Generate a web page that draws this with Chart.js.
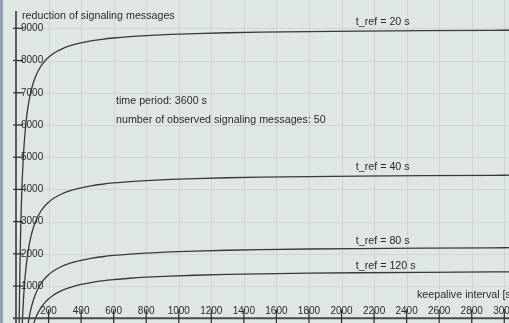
<!DOCTYPE html>
<html lang="en">
<head>
    <meta charset="UTF-8">
    <title>reduction of signaling messages</title>
    <script src="https://cdn.jsdelivr.net/npm/chart.js"></script>
    <style>
        body { margin:0; background:#dfe7e3; }
        #wrap { width:509px; height:323px; }
    </style>
</head>
<body>
    <div id="wrap">
        <canvas id="myChart" width="509" height="323"></canvas>
    </div>

    <script>
        // keepalive interval [s]
        const keepalive = [16, 18, 20, 22, 24, 27, 30, 34, 38, 42, 46, 50, 55, 60, 66, 72, 80, 88, 96, 105, 115, 125, 135, 150, 165, 180, 200, 225, 250, 280, 320, 360, 400, 460, 530, 600, 700, 800, 950, 1100, 1300, 1500, 1800, 2100, 2500, 3000, 3100];

        // reduction of signaling messages
        const tref20 = [null, -1000, 0, 818, 1500, 2333, 3000, 3706, 4263, 4714, 5087, 5400, 5727, 6000, 6273, 6500, 6750, 6955, 7125, 7286, 7435, 7560, 7667, 7800, 7909, 8000, 8100, 8200, 8280, 8357, 8437, 8500, 8550, 8609, 8660, 8700, 8743, 8775, 8811, 8836, 8862, 8880, 8900, 8914, 8928, 8940, 8942];
        const tref40 = [null, null, null, null, null, null, -1500, -794, -237, 214, 587, 900, 1227, 1500, 1773, 2000, 2250, 2455, 2625, 2786, 2935, 3060, 3167, 3300, 3409, 3500, 3600, 3700, 3780, 3857, 3937, 4000, 4050, 4109, 4160, 4200, 4243, 4275, 4311, 4336, 4362, 4380, 4400, 4414, 4428, 4440, 4442];
        const tref80 = [null, null, null, null, null, null, null, null, null, null, null, null, null, -750, -477, -250, 0, 205, 375, 536, 685, 810, 917, 1050, 1159, 1250, 1350, 1450, 1530, 1607, 1687, 1750, 1800, 1859, 1910, 1950, 1993, 2025, 2061, 2086, 2112, 2130, 2150, 2164, 2178, 2190, 2192];
        const tref120 = [null, null, null, null, null, null, null, null, null, null, null, null, null, null, null, null, null, null, -375, -214, -65, 60, 167, 300, 409, 500, 600, 700, 780, 857, 937, 1000, 1050, 1109, 1160, 1200, 1243, 1275, 1311, 1336, 1362, 1380, 1400, 1414, 1428, 1440, 1442];

        const xTicks = [200, 400, 600, 800, 1000, 1200, 1400, 1600, 1800, 2000, 2200, 2400, 2600, 2800, 3000];
        const yTicks = [1000, 2000, 3000, 4000, 5000, 6000, 7000, 8000, 9000];

        // curve labels: [text, x value, y value]
        const curveLabels = [
            ['t_ref = 20 s', 2088, 9101],
            ['t_ref = 40 s', 2088, 4588],
            ['t_ref = 80 s', 2088, 2293],
            ['t_ref = 120 s', 2088, 1517]
        ];

        const toPts = (vals) => keepalive.map((k, i) => ({x: k, y: vals[i]}));

        const mkSet = (lbl, vals) => ({
            label: lbl,
            data: toPts(vals),
            borderColor: '#383838',
            borderWidth: 1.3,
            pointRadius: 0,
            fill: false,
            cubicInterpolationMode: 'monotone'
        });

        const FONT = '"Liberation Sans", Arial, sans-serif';

        // background, grid, axes and texts
        const deco = {
            id: 'deco',
            beforeDraw(chart) {
                const c = chart.ctx, xs = chart.scales.x, ys = chart.scales.y;
                c.save();
                c.fillStyle = '#dfe7e3';
                c.fillRect(0, 0, chart.width, chart.height);
                c.fillStyle = '#8fa0bc';
                c.fillRect(0, 0, 3, chart.height);

                c.strokeStyle = '#cfd6d3';
                c.lineWidth = 1;
                xTicks.forEach(v => {
                    const px = Math.round(xs.getPixelForValue(v)) + 0.5;
                    c.beginPath(); c.moveTo(px, 0); c.lineTo(px, chart.height); c.stroke();
                });
                yTicks.forEach(v => {
                    const py = Math.round(ys.getPixelForValue(v)) + 0.5;
                    c.beginPath(); c.moveTo(16, py); c.lineTo(chart.width, py); c.stroke();
                });
                c.restore();
            },
            afterDatasetsDraw(chart) {
                const c = chart.ctx, xs = chart.scales.x, ys = chart.scales.y;
                const x0 = xs.getPixelForValue(0), y0 = ys.getPixelForValue(0);
                c.save();
                c.strokeStyle = '#2e2e2e';
                // y axis
                c.lineWidth = 1.5;
                c.beginPath(); c.moveTo(x0, 11); c.lineTo(x0, chart.height); c.stroke();
                // x axis
                c.strokeStyle = '#4a4a4a';
                c.lineWidth = 2;
                c.beginPath(); c.moveTo(x0 - 3, y0); c.lineTo(chart.width, y0); c.stroke();

                c.strokeStyle = '#2e2e2e';
                c.lineWidth = 1.2;
                c.fillStyle = '#2a2a2a';
                c.font = '10px ' + FONT;
                // y ticks
                c.textAlign = 'left';
                c.textBaseline = 'middle';
                yTicks.forEach(v => {
                    const py = ys.getPixelForValue(v);
                    c.beginPath(); c.moveTo(x0 - 3, py); c.lineTo(x0 + 7, py); c.stroke();
                    c.fillText(String(v), x0 + 5, py);
                });
                // x ticks
                c.textAlign = 'center';
                c.textBaseline = 'alphabetic';
                xTicks.forEach(v => {
                    const px = xs.getPixelForValue(v);
                    c.beginPath(); c.moveTo(px, y0 - 9); c.lineTo(px, chart.height); c.stroke();
                    c.fillText(String(v), px, y0 - 4);
                });

                // texts
                c.font = '10.7px ' + FONT;
                c.textAlign = 'left';
                c.fillText('reduction of signaling messages', 22, 19);
                c.fillText('time period: 3600 s', 116, 104);
                c.fillText('number of observed signaling messages: 50', 116, 123);
                c.fillText('keepalive interval [s]', 417, 298);
                curveLabels.forEach(([t, vx, vy]) => {
                    c.fillText(t, xs.getPixelForValue(vx), ys.getPixelForValue(vy));
                });
                c.restore();
            }
        };

        const ctx = document.querySelector('#myChart').getContext('2d');
        const myChart = new Chart(ctx, {
            type: 'line',
            data: {
                datasets: [
                    mkSet('t_ref = 20 s', tref20),
                    mkSet('t_ref = 40 s', tref40),
                    mkSet('t_ref = 80 s', tref80),
                    mkSet('t_ref = 120 s', tref120)
                ]
            },
            options: {
                responsive: false,
                animation: false,
                devicePixelRatio: 1,
                layout: { padding: 0 },
                plugins: { legend: { display: false }, tooltip: { enabled: false } },
                scales: {
                    x: { type: 'linear', min: -98.3, max: 3029, display: false },
                    y: { type: 'linear', min: -146, max: 9879, display: false }
                }
            },
            plugins: [deco]
        });
    </script>
</body>
</html>
